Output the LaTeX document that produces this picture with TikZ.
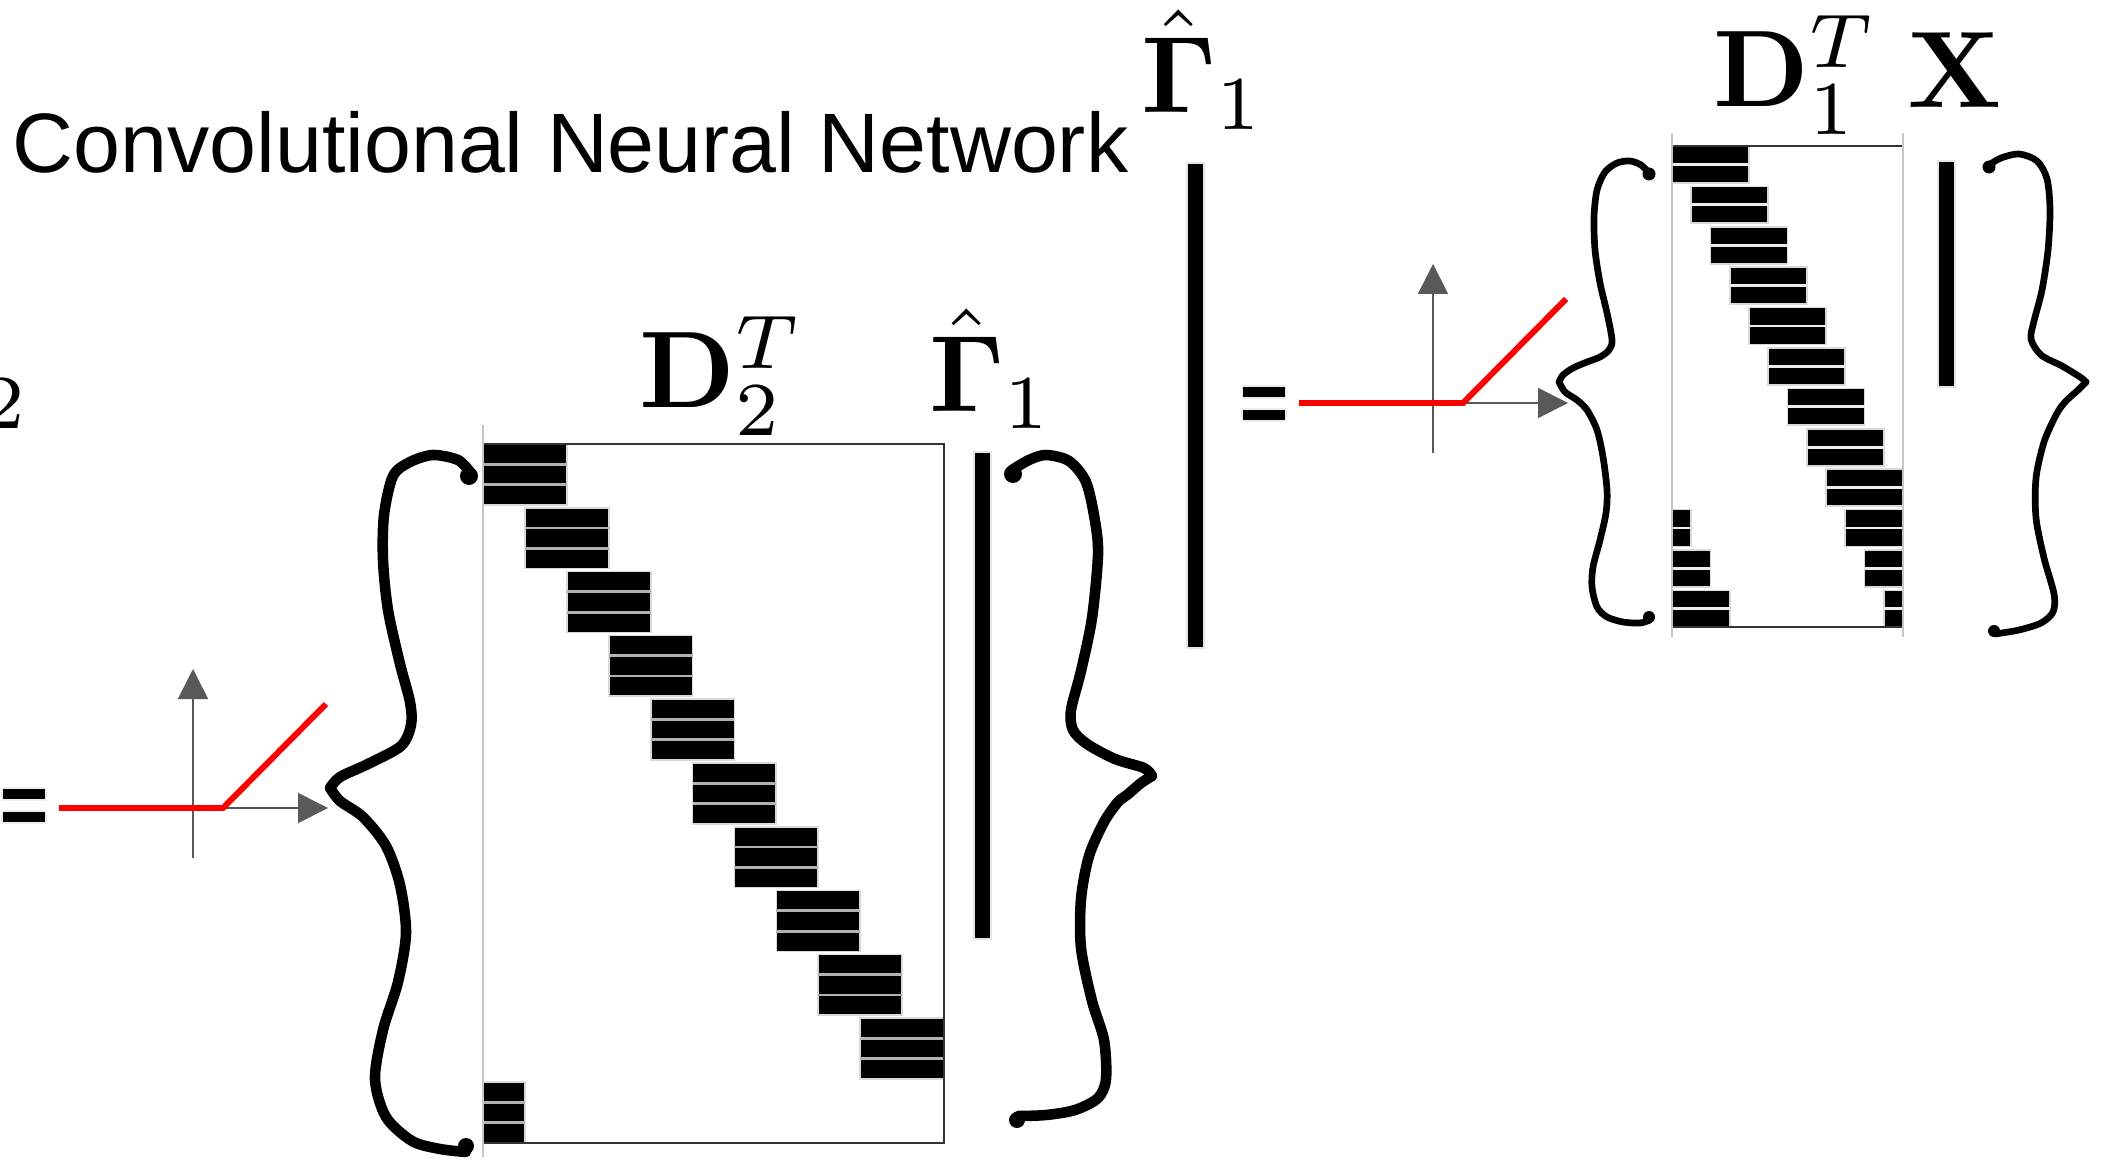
\documentclass[tikz,border=0pt]{standalone}
\usepackage[no-math]{fontspec}
\newfontfamily\titlefont{Liberation Sans}
\usetikzlibrary{arrows.meta, calc}

% one filter block: x0, y0, x1, y1, cut fractions, cut colour
\newcommand{\kblock}[6]{%
  \filldraw[blk] (#1,#2) rectangle (#3,#4);
  \foreach \f in {#5}
    \draw[#6, line width=0.8pt] ($(#1,#2)!\f!(#1,#4)$) -- ($(#3,#2)!\f!(#3,#4)$);
}

\begin{document}
\begin{tikzpicture}[
  x=0.1mm, y=-0.1mm,
  lab/.style={anchor=base west, inner sep=0pt, scale=3.1},
  blk/.style={fill=black, draw=gray!30, line width=0.5pt},
  mat/.style={draw=black!80, line width=0.7pt},
  matside/.style={draw=gray!45, line width=0.5pt},
  vec/.style={fill=black, draw=gray!20, line width=0.6pt},
  eqbar/.style={fill=black, draw=gray!15, line width=0.8pt},
  axisarr/.style={-{Triangle[length=3mm, width=3mm]}, draw=black!65, fill=black!65, line width=0.5pt},
  relu/.style={draw=red, line width=1.7pt},
  curly/.style={line width=3pt, line cap=round, line join=round},
  thincurly/.style={line width=1.9pt, line cap=round, line join=round}
]
\useasboundingbox (0,0) rectangle (2103,1160);

% title and labels
\node[anchor=base west, inner sep=0pt, font=\titlefont\fontsize{24}{28}\selectfont] (title) at (12,173) {Convolutional Neural Network};
\node[lab] (gamtop) at (1139,113) {$\hat{\mathbf{\Gamma}}_1$};
\node[lab] (gamlow) at (927,412) {$\hat{\mathbf{\Gamma}}_1$};
\node[lab] (dtwo) at (637,408) {$\mathbf{D}_2^T$};
\node[lab] (done) at (1711,107) {$\mathbf{D}_1^T$};
\node[lab] (xlab) at (1905,108) {$\mathbf{X}$};
\node[lab, anchor=base east] (gamtwo) at (27,428) {$\scriptstyle 2$};

% D_2^T : eleven rows of three-stripe filters
\foreach \r in {0,...,9} {
  \pgfmathsetmacro{\xa}{483+41.91*\r}
  \pgfmathsetmacro{\xb}{min(\xa+83.8,944)}
  \pgfmathsetmacro{\ya}{444+63.8*\r}
  \pgfmathsetmacro{\yb}{\ya+60.8}
  \kblock{\xa}{\ya}{\xb}{\yb}{0.333,0.667}{gray!60}
}
\kblock{483}{1082}{525}{1143}{0.333,0.667}{gray!60}
\draw[mat] (483,444) rectangle (944,1143);
\draw[matside] (483,425) -- (483,1157);

% D_1^T : twelve rows of two-stripe filters, wrapping round
\foreach \r in {0,...,11} {
  \pgfmathsetmacro{\xa}{1672+19.25*\r}
  \pgfmathsetmacro{\xb}{min(\xa+77,1903)}
  \pgfmathsetmacro{\ya}{146+40.4*\r}
  \pgfmathsetmacro{\yb}{\ya+36.9}
  \kblock{\xa}{\ya}{\xb}{\yb}{0.5}{gray!15}
  \ifnum\r>8
    \pgfmathsetmacro{\xc}{1672+19.25*(\r-8)}
    \kblock{1672}{\ya}{\xc}{\yb}{0.5}{gray!15}
  \fi
}
\draw[mat] (1672,146) rectangle (1903,627);
\draw[matside] (1672,133) -- (1672,637) (1903,133) -- (1903,637);

% vectors
\filldraw[vec] (1187,163) rectangle (1204,648);
\filldraw[vec] (974,452) rectangle (991,939);
\filldraw[vec] (1938,161) rectangle (1955,387);

% equal signs
\foreach \ex/\ey in {1242/386, 2/788} {
  \filldraw[eqbar] (\ex,\ey) rectangle ++(44,12);
  \filldraw[eqbar] (\ex,\ey+23) rectangle ++(44,12);
}

% ReLU glyphs
\foreach \kx/\ky in {1463/403, 223/808} {
  \draw[axisarr] (\kx-30,\ky+50) -- (\kx-30,\ky-139);
  \draw[axisarr] (\kx-164,\ky) -- (\kx+105,\ky);
  \draw[relu] (\kx-164,\ky) -- (\kx,\ky) -- (\kx+103,\ky-104);
}

% braces round D_2^T
\draw[curly] plot[smooth, tension=0.5] coordinates {(470,472) (458,460) (433,455) (410,462) (393,476) (384,515) (383,560) (388,610) (400,664) (410,702) (411,725) (401,746) (368,764) (340,777) (330,788)};
\draw[curly] plot[smooth, tension=0.5] coordinates {(330,788) (340,801) (363,817) (386,846) (400,885) (406,933) (398,982) (383,1030) (375,1079) (386,1117) (412,1141) (440,1149) (466,1152)};
\fill (469,476) circle (0.9mm) (466,1146) circle (0.8mm);
\draw[curly] plot[smooth, tension=0.5] coordinates {(1012,470) (1029,460) (1046,455) (1069,461) (1086,482) (1095,521) (1098,555) (1092,618) (1081,671) (1071,710) (1073,730) (1087,744) (1115,759) (1144,768) (1152,776)};
\draw[curly] plot[smooth, tension=0.5] coordinates {(1152,776) (1141,783) (1127,795) (1118,802) (1104,822) (1089,856) (1081,899) (1081,948) (1092,1001) (1104,1040) (1106,1079) (1098,1098) (1075,1110) (1046,1115) (1018,1116)};
\fill (1013,474) circle (0.9mm) (1017,1120) circle (0.8mm);

% braces round D_1^T
\draw[thincurly] plot[smooth, tension=0.5] coordinates {(1648,172) (1641,165) (1630,161) (1617,163) (1605,172) (1597,190) (1594,217) (1595,250) (1600,283) (1607,313) (1612,340) (1609,350) (1600,357) (1587,362) (1573,368) (1563,375) (1559,382)};
\draw[thincurly] plot[smooth, tension=0.5] coordinates {(1559,382) (1565,392) (1577,400) (1587,410) (1597,430) (1603,457) (1607,490) (1606,513) (1600,540) (1593,567) (1592,587) (1597,607) (1607,617) (1623,622) (1640,623) (1650,620)};
\fill (1649,174) circle (0.65mm) (1649,617) circle (0.6mm);
\draw[thincurly] plot[smooth, tension=0.5] coordinates {(1989,165) (2001,158) (2019,154) (2037,161) (2047,179) (2050,210) (2048,250) (2042,290) (2034,321) (2031,339) (2041,355) (2062,366) (2080,377) (2086,382)};
\draw[thincurly] plot[smooth, tension=0.5] coordinates {(2086,382) (2077,391) (2065,402) (2056,415) (2044,442) (2036,478) (2036,518) (2044,558) (2054,594) (2053,612) (2041,623) (2019,630) (1995,634)};
\fill (1989,167) circle (0.65mm) (1994,631) circle (0.6mm);

\end{tikzpicture}
\end{document}
